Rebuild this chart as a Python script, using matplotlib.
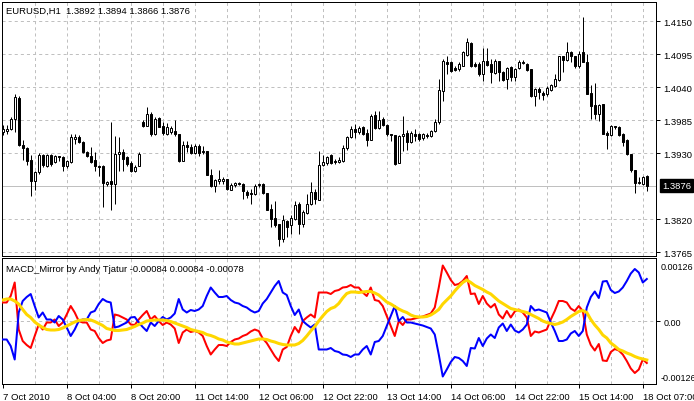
import matplotlib
matplotlib.use("Agg")
import matplotlib.pyplot as plt
import numpy as np

plt.rcParams['lines.scale_dashes'] = False
plt.rcParams['font.family'] = ['Liberation Sans', 'DejaVu Sans']

symbol_title = "EURUSD,H1  1.3892 1.3894 1.3866 1.3876"
indicator_title = "MACD_Mirror by Andy Tjatur -0.00084 0.00084 -0.00078"

opens = [1.3965, 1.3967, 1.3970, 1.3987, 1.4022, 1.3943, 1.3938, 1.3918, 1.3883, 1.3898,
         1.3927, 1.3908, 1.3927, 1.3915, 1.3925, 1.3923, 1.3908, 1.3915, 1.3953, 1.3957,
         1.3948, 1.3932, 1.3925, 1.3918, 1.3908, 1.3908, 1.3878, 1.3883, 1.3878, 1.3928,
         1.3932, 1.3923, 1.3913, 1.3900, 1.3908, 1.3982, 1.3975, 1.3995, 1.3962, 1.3988,
         1.3975, 1.3962, 1.3965, 1.3967, 1.3962, 1.3917, 1.3943, 1.3940, 1.3930, 1.3942,
         1.3933, 1.3933, 1.3893, 1.3875, 1.3883, 1.3883, 1.3887, 1.3868, 1.3877, 1.3880,
         1.3878, 1.3865, 1.3863, 1.3862, 1.3877, 1.3878, 1.3863, 1.3837, 1.3822, 1.3812,
         1.3787, 1.3817, 1.3810, 1.3820, 1.3845, 1.3812, 1.3830, 1.3845, 1.3865, 1.3852,
         1.3910, 1.3913, 1.3927, 1.3917, 1.3915, 1.3917, 1.3938, 1.3957, 1.3970, 1.3965,
         1.3973, 1.3963, 1.3952, 1.3993, 1.3972, 1.3987, 1.3977, 1.3962, 1.3960, 1.3913,
         1.3958, 1.3963, 1.3948, 1.3962, 1.3962, 1.3955, 1.3960, 1.3958, 1.3967, 1.3982,
         1.4033, 1.4082, 1.4082, 1.4072, 1.4070, 1.4075, 1.4093, 1.4113, 1.4078, 1.4078,
         1.4062, 1.4083, 1.4078, 1.4063, 1.4083, 1.4065, 1.4053, 1.4073, 1.4057, 1.4072,
         1.4082, 1.4078, 1.4070, 1.4025, 1.4037, 1.4030, 1.4028, 1.4035, 1.4042, 1.4052,
         1.4092, 1.4085, 1.4098, 1.4092, 1.4075, 1.4098, 1.4082, 1.4030, 1.4010, 1.3995,
         1.4012, 1.3963, 1.3960, 1.3975, 1.3973, 1.3962, 1.3952, 1.3928, 1.3902, 1.3880,
         1.3878, 1.3892]
highs = [1.3977, 1.3977, 1.3990, 1.4028, 1.4025, 1.3952, 1.3940, 1.3927, 1.3900, 1.3930,
         1.3928, 1.3928, 1.3928, 1.3927, 1.3925, 1.3925, 1.3918, 1.3962, 1.3962, 1.3960,
         1.3950, 1.3933, 1.3940, 1.3932, 1.3910, 1.3910, 1.3883, 1.3982, 1.3958, 1.3957,
         1.3937, 1.3925, 1.3917, 1.3910, 1.3932, 1.3985, 1.4007, 1.3998, 1.3990, 1.3990,
         1.3982, 1.3980, 1.3975, 1.3985, 1.3962, 1.3950, 1.3950, 1.3945, 1.3945, 1.3945,
         1.3942, 1.3933, 1.3903, 1.3887, 1.3902, 1.3890, 1.3887, 1.3880, 1.3882, 1.3882,
         1.3880, 1.3868, 1.3870, 1.3878, 1.3880, 1.3880, 1.3863, 1.3845, 1.3850, 1.3812,
         1.3827, 1.3818, 1.3827, 1.3850, 1.3848, 1.3835, 1.3862, 1.3882, 1.3870, 1.3933,
         1.3927, 1.3925, 1.3928, 1.3920, 1.3923, 1.3943, 1.3958, 1.3975, 1.3978, 1.3975,
         1.3975, 1.3970, 1.3995, 1.4000, 1.4000, 1.3990, 1.3978, 1.3962, 1.3960, 1.3960,
         1.3992, 1.3968, 1.3967, 1.3970, 1.3963, 1.3963, 1.3963, 1.3968, 1.3987, 1.4053,
         1.4087, 1.4092, 1.4083, 1.4075, 1.4082, 1.4100, 1.4122, 1.4115, 1.4082, 1.4082,
         1.4105, 1.4105, 1.4087, 1.4087, 1.4083, 1.4067, 1.4073, 1.4075, 1.4072, 1.4085,
         1.4085, 1.4080, 1.4070, 1.4038, 1.4040, 1.4033, 1.4042, 1.4045, 1.4062, 1.4092,
         1.4092, 1.4115, 1.4100, 1.4092, 1.4100, 1.4157, 1.4095, 1.4043, 1.4047, 1.4012,
         1.4012, 1.3967, 1.3977, 1.3975, 1.3975, 1.3963, 1.3953, 1.3928, 1.3902, 1.3890,
         1.3892, 1.3894]
lows = [1.3960, 1.3962, 1.3968, 1.3965, 1.3942, 1.3918, 1.3910, 1.3858, 1.3868, 1.3895,
        1.3907, 1.3907, 1.3908, 1.3913, 1.3917, 1.3900, 1.3905, 1.3913, 1.3945, 1.3947,
        1.3930, 1.3923, 1.3913, 1.3900, 1.3892, 1.3840, 1.3875, 1.3835, 1.3845, 1.3900,
        1.3900, 1.3908, 1.3898, 1.3898, 1.3908, 1.3973, 1.3975, 1.3958, 1.3960, 1.3973,
        1.3960, 1.3960, 1.3962, 1.3958, 1.3915, 1.3917, 1.3932, 1.3928, 1.3928, 1.3925,
        1.3928, 1.3893, 1.3873, 1.3865, 1.3878, 1.3878, 1.3868, 1.3868, 1.3873, 1.3877,
        1.3853, 1.3855, 1.3845, 1.3860, 1.3873, 1.3862, 1.3835, 1.3807, 1.3807, 1.3775,
        1.3782, 1.3790, 1.3795, 1.3818, 1.3795, 1.3807, 1.3828, 1.3843, 1.3845, 1.3852,
        1.3908, 1.3910, 1.3912, 1.3912, 1.3913, 1.3915, 1.3935, 1.3955, 1.3955, 1.3962,
        1.3960, 1.3942, 1.3952, 1.3970, 1.3970, 1.3975, 1.3958, 1.3950, 1.3910, 1.3913,
        1.3933, 1.3935, 1.3947, 1.3950, 1.3950, 1.3952, 1.3955, 1.3957, 1.3965, 1.3978,
        1.4017, 1.4062, 1.4065, 1.4067, 1.4067, 1.4075, 1.4092, 1.4073, 1.4073, 1.4058,
        1.4050, 1.4075, 1.4047, 1.4062, 1.4050, 1.4050, 1.4037, 1.4050, 1.4050, 1.4070,
        1.4078, 1.4067, 1.4023, 1.4008, 1.4020, 1.4018, 1.4025, 1.4033, 1.4040, 1.4050,
        1.4065, 1.4083, 1.4082, 1.4072, 1.4072, 1.4082, 1.4028, 1.3987, 1.3987, 1.3983,
        1.3962, 1.3937, 1.3958, 1.3970, 1.3958, 1.3942, 1.3927, 1.3898, 1.3863, 1.3878,
        1.3877, 1.3866]
closes = [1.3970, 1.3970, 1.3987, 1.4023, 1.3943, 1.3938, 1.3917, 1.3883, 1.3898, 1.3927,
          1.3910, 1.3927, 1.3912, 1.3925, 1.3923, 1.3908, 1.3917, 1.3957, 1.3957, 1.3948,
          1.3932, 1.3925, 1.3915, 1.3908, 1.3907, 1.3880, 1.3882, 1.3878, 1.3928, 1.3932,
          1.3920, 1.3912, 1.3900, 1.3907, 1.3928, 1.3975, 1.3995, 1.3962, 1.3987, 1.3973,
          1.3963, 1.3973, 1.3972, 1.3962, 1.3917, 1.3943, 1.3940, 1.3930, 1.3942, 1.3930,
          1.3932, 1.3893, 1.3875, 1.3885, 1.3887, 1.3887, 1.3870, 1.3877, 1.3880, 1.3878,
          1.3867, 1.3860, 1.3862, 1.3875, 1.3878, 1.3863, 1.3835, 1.3820, 1.3810, 1.3787,
          1.3818, 1.3807, 1.3822, 1.3843, 1.3812, 1.3832, 1.3845, 1.3865, 1.3853, 1.3910,
          1.3915, 1.3923, 1.3913, 1.3915, 1.3918, 1.3938, 1.3957, 1.3970, 1.3965, 1.3972,
          1.3962, 1.3952, 1.3992, 1.3972, 1.3985, 1.3977, 1.3962, 1.3960, 1.3912, 1.3958,
          1.3962, 1.3948, 1.3963, 1.3958, 1.3953, 1.3962, 1.3958, 1.3967, 1.3982, 1.4035,
          1.4083, 1.4078, 1.4067, 1.4068, 1.4078, 1.4098, 1.4115, 1.4075, 1.4075, 1.4062,
          1.4083, 1.4077, 1.4065, 1.4083, 1.4065, 1.4052, 1.4072, 1.4057, 1.4070, 1.4082,
          1.4080, 1.4068, 1.4025, 1.4037, 1.4032, 1.4027, 1.4038, 1.4043, 1.4053, 1.4092,
          1.4085, 1.4098, 1.4092, 1.4075, 1.4095, 1.4082, 1.4028, 1.4008, 1.3995, 1.4010,
          1.3962, 1.3960, 1.3975, 1.3973, 1.3960, 1.3948, 1.3928, 1.3902, 1.3880, 1.3882,
          1.3890, 1.3876]

macd_main = [0.00037, 0.00037, 0.00050, 0.00077, -0.00017, -0.00040, -0.00048, -0.00054, -0.00030, -0.00007,
             -0.00017, -0.00003, -0.00003, 0.00003, -0.00010, -0.00003, 0.00013, 0.00030, 0.00017, 0.00000,
             -0.00003, -0.00003, -0.00017, -0.00020, -0.00034, -0.00044, -0.00039, -0.00037, 0.00013, 0.00011,
             0.00007, 0.00003, -0.00007, -0.00008, 0.00003, 0.00012, 0.00020, 0.00003, 0.00010, 0.00000,
             -0.00008, -0.00003, -0.00007, -0.00015, -0.00044, -0.00023, -0.00017, -0.00022, -0.00020, -0.00023,
             -0.00030, -0.00050, -0.00067, -0.00057, -0.00048, -0.00048, -0.00050, -0.00042, -0.00037, -0.00035,
             -0.00030, -0.00027, -0.00021, -0.00017, -0.00020, -0.00035, -0.00044, -0.00057, -0.00070, -0.00080,
             -0.00057, -0.00052, -0.00030, -0.00012, -0.00023, 0.00000, 0.00007, 0.00013, 0.00007, 0.00057,
             0.00057, 0.00057, 0.00054, 0.00060, 0.00062, 0.00067, 0.00068, 0.00072, 0.00067, 0.00067,
             0.00057, 0.00050, 0.00067, 0.00042, 0.00040, 0.00030, 0.00010, -0.00010, -0.00030, 0.00000,
             -0.00008, 0.00003, 0.00003, 0.00005, 0.00007, 0.00009, 0.00012, 0.00015, 0.00027, 0.00067,
             0.00111, 0.00097, 0.00082, 0.00072, 0.00074, 0.00080, 0.00090, 0.00054, 0.00055, 0.00034,
             0.00050, 0.00035, 0.00027, 0.00034, 0.00013, 0.00005, 0.00020, 0.00007, 0.00019, 0.00023,
             0.00017, 0.00007, -0.00030, -0.00021, -0.00023, -0.00020, -0.00017, 0.00003, 0.00020, 0.00040,
             0.00040, 0.00037, 0.00025, 0.00020, 0.00030, 0.00020, -0.00027, -0.00048, -0.00059, -0.00046,
             -0.00079, -0.00080, -0.00062, -0.00056, -0.00059, -0.00067, -0.00080, -0.00095, -0.00104, -0.00097,
             -0.00077, -0.00084]
macd_signal = [0.00042, 0.00044, 0.00044, 0.00040, 0.00034, 0.00023, 0.00013, 0.00007, -0.00002, -0.00008,
               -0.00013, -0.00017, -0.00018, -0.00018, -0.00017, -0.00014, -0.00010, -0.00006, -0.00002, 0.00001,
               0.00002, 0.00003, 0.00002, -0.00001, -0.00005, -0.00009, -0.00015, -0.00017, -0.00019, -0.00019,
               -0.00018, -0.00017, -0.00014, -0.00011, -0.00007, -0.00004, 0.00000, 0.00001, 0.00002, 0.00002,
               0.00002, 0.00001, -0.00001, -0.00004, -0.00007, -0.00010, -0.00013, -0.00017, -0.00019, -0.00021,
               -0.00023, -0.00027, -0.00029, -0.00032, -0.00036, -0.00038, -0.00042, -0.00044, -0.00046, -0.00046,
               -0.00044, -0.00042, -0.00040, -0.00038, -0.00036, -0.00036, -0.00037, -0.00040, -0.00042, -0.00045,
               -0.00047, -0.00048, -0.00048, -0.00048, -0.00045, -0.00039, -0.00030, -0.00020, -0.00011, 0.00000,
               0.00010, 0.00019, 0.00025, 0.00028, 0.00035, 0.00046, 0.00055, 0.00058, 0.00058, 0.00057,
               0.00058, 0.00059, 0.00059, 0.00056, 0.00052, 0.00045, 0.00038, 0.00034, 0.00029, 0.00024,
               0.00020, 0.00017, 0.00012, 0.00009, 0.00008, 0.00008, 0.00009, 0.00012, 0.00017, 0.00023,
               0.00034, 0.00042, 0.00050, 0.00060, 0.00069, 0.00077, 0.00082, 0.00077, 0.00071, 0.00067,
               0.00063, 0.00058, 0.00054, 0.00047, 0.00040, 0.00035, 0.00030, 0.00025, 0.00023, 0.00021,
               0.00019, 0.00017, 0.00013, 0.00009, 0.00005, 0.00000, -0.00003, -0.00005, -0.00007, -0.00005,
               -0.00002, 0.00003, 0.00009, 0.00014, 0.00019, 0.00021, 0.00017, 0.00003, -0.00008, -0.00017,
               -0.00028, -0.00034, -0.00044, -0.00050, -0.00057, -0.00060, -0.00064, -0.00067, -0.00071, -0.00074,
               -0.00076, -0.00078]
# the mirror line of this indicator is the main line with inverted sign
macd_mirror = [-v for v in macd_main]

time_labels = ["7 Oct 2010", "8 Oct 04:00", "8 Oct 20:00", "11 Oct 14:00", "12 Oct 06:00",
               "12 Oct 22:00", "13 Oct 14:00", "14 Oct 06:00", "14 Oct 22:00", "15 Oct 14:00",
               "18 Oct 07:00"]
price_labels = [1.4150, 1.4095, 1.4040, 1.3985, 1.3930, 1.3820, 1.3765]
price_grid = [1.4150, 1.4095, 1.4040, 1.3985, 1.3930, 1.3875, 1.3820, 1.3765]
last_price = 1.3876
macd_scale = 0.00126

W, H = 694, 402
fig = plt.figure(figsize=(W / 100, H / 100), dpi=100)
fig.patch.set_facecolor('white')


def rect(x0, y0, x1, y1):
    return [x0 / W, 1 - y1 / H, (x1 - x0) / W, (y1 - y0) / H]


ax = fig.add_axes(rect(1.5, 3, 656, 256.5))
ai = fig.add_axes(rect(1.5, 259, 656, 385))

n = len(closes)
idx = np.arange(n)
o = np.array(opens); c = np.array(closes)
h = np.array(highs); l = np.array(lows)

px = 0.72
grid_col = '#c0c0c0'
dash = (0, (2.2, 2.2))
xmin, xmax = -0.3, 163.3
fs = 6.8

for a in (ax, ai):
    a.set_xlim(xmin, xmax)
    for s in a.spines.values():
        s.set_linewidth(px)
        s.set_color('black')
    for g in range(8, n, 8):
        a.axvline(g, color=grid_col, lw=px, ls=dash, zorder=0)

# main price pane
ax.set_ylim(1.37592, 1.41822)
for p in price_grid:
    ax.axhline(p, color=grid_col, lw=px, ls=dash, zorder=0)
ax.axhline(last_price, color=grid_col, lw=px, zorder=1)

ax.vlines(idx, l, h, color='black', lw=px, zorder=3)
up = c >= o
bottoms = np.minimum(o, c)
heights = np.abs(c - o)
ax.bar(idx, heights, bottom=bottoms, width=0.5,
       color=np.where(up, 'white', 'black'), edgecolor='black',
       linewidth=px, zorder=4)

ax.set_xticks([])
ax.yaxis.tick_right()
ax.set_yticks(price_labels)
ax.set_yticklabels([f"{p:.4f}" for p in price_labels])
ax.tick_params(axis='y', direction='out', length=3, width=px, pad=2.5,
               labelsize=fs, colors='black')
ax.annotate(f"{last_price:.4f}", xy=(1, last_price),
            xycoords=('axes fraction', 'data'), xytext=(6, 0),
            textcoords='offset pixels', ha='left', va='center',
            color='white', fontsize=fs,
            bbox=dict(boxstyle='square,pad=0.18', fc='black', ec='black'),
            annotation_clip=False)
fig.text(6 / W, 1 - 11.5 / H, symbol_title, ha='left', va='center', fontsize=fs)

# indicator pane
ai.set_ylim(-macd_scale, macd_scale)
ai.axhline(0, color=grid_col, lw=px, ls=dash, zorder=0)
ai.plot(idx, macd_main, color='#ff0000', lw=1.45, zorder=3)
ai.plot(idx, macd_mirror, color='#0000ff', lw=1.45, zorder=3)
ai.plot(idx, macd_signal, color='#ffd700', lw=2.2, zorder=4)
ai.yaxis.tick_right()
ai.set_yticks([0])
ai.set_yticklabels(["0.00"])
ai.tick_params(axis='y', direction='out', length=3, width=px, pad=2.5,
               labelsize=6.5, colors='black')
# scale labels drawn just inside the top and bottom edges, as the terminal does
ai.annotate(f"{macd_scale:.5f}", xy=(1, macd_scale), xycoords=('axes fraction', 'data'),
            xytext=(5, -8), textcoords='offset pixels', ha='left', va='center',
            fontsize=6.5, annotation_clip=False)
ai.annotate(f"{-macd_scale:.5f}", xy=(1, -macd_scale), xycoords=('axes fraction', 'data'),
            xytext=(5, 6), textcoords='offset pixels', ha='left', va='center',
            fontsize=6.5, annotation_clip=False)

ai.set_xticks(np.arange(0, n, 16)[:len(time_labels)])
ai.set_xticklabels(time_labels, ha='left')
ai.tick_params(axis='x', direction='out', length=3, width=px, pad=2.5,
               labelsize=fs, colors='black')
fig.text(6 / W, 1 - 270 / H, indicator_title, ha='left', va='center', fontsize=fs)

fig.savefig('out.png', dpi=100, facecolor='white')
